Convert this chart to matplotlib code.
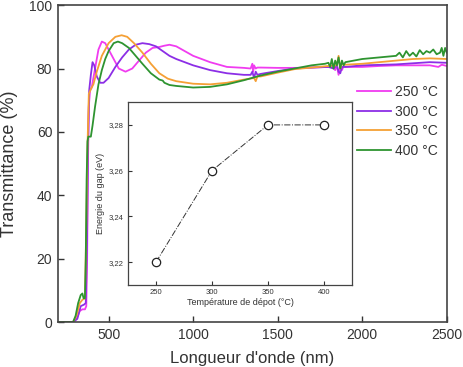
import matplotlib
matplotlib.use("Agg")
import matplotlib.pyplot as plt
import numpy as np
from matplotlib.ticker import FuncFormatter

plt.rcParams['font.family'] = ['Liberation Sans', 'DejaVu Sans']

# Transmittance spectra (wavelength nm, transmittance %)
wl_250 = [200, 290, 310, 330, 345, 360, 368, 373, 378, 383, 390, 400, 420, 440, 460, 480, 500, 530,
          560, 600, 640, 680, 720, 760, 800, 830, 860, 900, 950, 1000, 1100, 1200, 1300, 1340, 1350,
          1355, 1360, 1370, 1380, 1400, 1500, 1600, 1700, 1800, 1820, 1840, 1850, 1860, 1870, 1880,
          1890, 1900, 1950, 2000, 2100, 2200, 2300, 2400, 2450, 2470, 2500]
tr_250 = [0, 0, 1, 3.5, 4, 4, 5, 20, 50, 68, 73, 74, 80, 86, 88.5, 88, 86, 83,
          80, 79, 80, 82.5, 85, 86.5, 86.8, 87.2, 87.5, 87, 85.5, 84, 82, 80.5, 80.2, 80, 81.5,
          79, 81, 80, 80.3, 80.3, 80.2, 80.2, 80.3, 80.5, 80.7, 79.5, 81, 78, 80.5, 79.5,
          80.8, 80.5, 80.5, 80.5, 80.8, 81, 81, 81, 80.5, 81.2, 80.8]

wl_300 = [200, 290, 315, 335, 355, 365, 372, 378, 385, 395, 405, 415, 430, 450, 470, 500, 540, 580,
          620, 660, 700, 740, 780, 820, 860, 900, 1000, 1100, 1200, 1300, 1340, 1350, 1360, 1370,
          1380, 1400, 1500, 1600, 1700, 1800, 1830, 1850, 1860, 1870, 1880, 1900, 2000, 2200, 2400, 2500]
tr_300 = [0, 0, 1, 5, 5.5, 6, 25, 55, 73, 78, 82, 81, 77.5, 75.5, 75.5, 77, 80.5, 83.5,
          86, 87.5, 88, 87.7, 87, 85.5, 84, 83, 81, 79.5, 78.5, 78, 78, 79, 77, 79,
          78, 78.3, 79.2, 80, 80.3, 80.5, 80, 81, 79, 78.5, 80.5, 80.5, 81, 81.3, 82, 81.8]

wl_350 = [200, 290, 310, 330, 345, 360, 368, 375, 383, 395, 410, 430, 460, 500, 540, 577, 610, 650,
          700, 750, 800, 850, 900, 1000, 1100, 1200, 1300, 1360, 1370, 1380, 1400, 1500, 1600, 1700,
          1800, 1850, 1860, 1870, 1880, 1900, 2000, 2100, 2200, 2300, 2400, 2500]
tr_350 = [0, 0, 2, 6, 7, 7.5, 30, 55, 72, 73.5, 75, 79, 84, 88, 90, 90.5, 90, 88,
          85, 81.5, 78.5, 76.8, 76, 75.2, 75, 75.5, 76.5, 77, 76, 77.5, 77.5, 78.7, 79.8, 80.3,
          80.8, 81, 84, 80, 81.5, 81.2, 81.5, 82, 82.5, 83, 83.2, 83]

wl_400 = [200, 290, 305, 320, 335, 345, 352, 360, 365, 370, 375, 380, 395, 405, 420, 440, 460, 480,
          500, 530, 555, 580, 620, 660, 700, 750, 800, 820, 830, 860, 900, 1000, 1100, 1200, 1300,
          1400, 1500, 1600, 1700, 1780, 1800, 1810, 1820, 1830, 1840, 1850, 1860, 1870, 1880, 1890,
          1900, 1950, 2000, 2100, 2200, 2220, 2240, 2260, 2280, 2300, 2320, 2340, 2360, 2380, 2400,
          2420, 2440, 2460, 2470, 2480, 2490, 2500]
tr_400 = [0, 0, 2, 6, 8.5, 9, 7.5, 7.5, 20, 45, 57, 58.5, 58.5, 62, 68, 75, 79.5, 83,
          85.5, 88, 88.5, 88, 86.5, 84, 81.5, 78.5, 76.5, 76.2, 75.5, 74.8, 74.5, 74, 74.2, 75, 76.3,
          77.8, 79, 80, 81, 81.5, 81.8, 80.5, 83, 80, 82.5, 81, 83.5, 80, 82.5, 81,
          82, 82.5, 83, 83.5, 84, 85, 83.5, 85.5, 84, 85, 83.8, 85.8, 84.5, 85.5, 85,
          86, 84.5, 85, 86.5, 84, 86.5, 85]

labels = ['250 °C', '300 °C', '350 °C', '400 °C']
colors = ['#f03cf0', '#8c2ee6', '#f5a035', '#2e9430']

# Inset: band gap vs deposition temperature
temp = [250, 300, 350, 400]
gap = [3.22, 3.26, 3.28, 3.28]

fig = plt.figure(figsize=(4.63, 3.67), dpi=100)
ax = fig.add_axes([0.125, 0.1226, 0.84, 0.8634])

for wl, tr, lab, c in zip([wl_250, wl_300, wl_350, wl_400], [tr_250, tr_300, tr_350, tr_400], labels, colors):
    ax.plot(wl, tr, color=c, lw=1.3, label=lab)

ax.set_xlim(200, 2500)
ax.set_ylim(0, 100)
ax.set_xticks([500, 1000, 1500, 2000, 2500])
ax.set_yticks([0, 20, 40, 60, 80, 100])
ax.tick_params(direction='in', length=4, width=1, labelsize=10, colors='#333333', pad=4)
for s in ax.spines.values():
    s.set_color('#444444')
    s.set_linewidth(1.2)
ax.set_ylabel('Transmittance (%)', fontsize=13, color='#333333', labelpad=8)
ax.set_xlabel("Longueur d'onde (nm)", fontsize=12, color='#333333', labelpad=7)

leg = ax.legend(loc='upper left', bbox_to_anchor=(0.770, 0.768), bbox_transform=fig.transFigure,
                frameon=False, fontsize=10, handlelength=2.5, handletextpad=0.3,
                labelspacing=0.4, borderpad=0, borderaxespad=0)
for t in leg.get_texts():
    t.set_color('#333333')

ins = fig.add_axes([0.2765, 0.2234, 0.4835, 0.4986])
ins.plot(temp, gap, color='#333333', lw=0.7, ls='-.', marker='o', ms=6,
         mfc='white', mec='#222222', mew=0.9)
ins.set_xlim(225, 425)
ins.set_ylim(3.21, 3.29)
ins.set_xticks([250, 300, 350, 400])
ins.set_yticks([3.22, 3.24, 3.26, 3.28])
ins.yaxis.set_major_formatter(FuncFormatter(lambda v, p: ('%.2f' % v).replace('.', ',')))
ins.tick_params(direction='in', length=3, width=0.8, labelsize=5.5, colors='#333333', pad=3)
for s in ins.spines.values():
    s.set_color('#444444')
    s.set_linewidth(0.9)
ins.set_xlabel('Température de dépot (°C)', fontsize=6.5, color='#333333', labelpad=1)
ins.set_ylabel('Energie du gap (eV)', fontsize=6.5, color='#333333', labelpad=3)

fig.savefig('out.png', dpi=100)
